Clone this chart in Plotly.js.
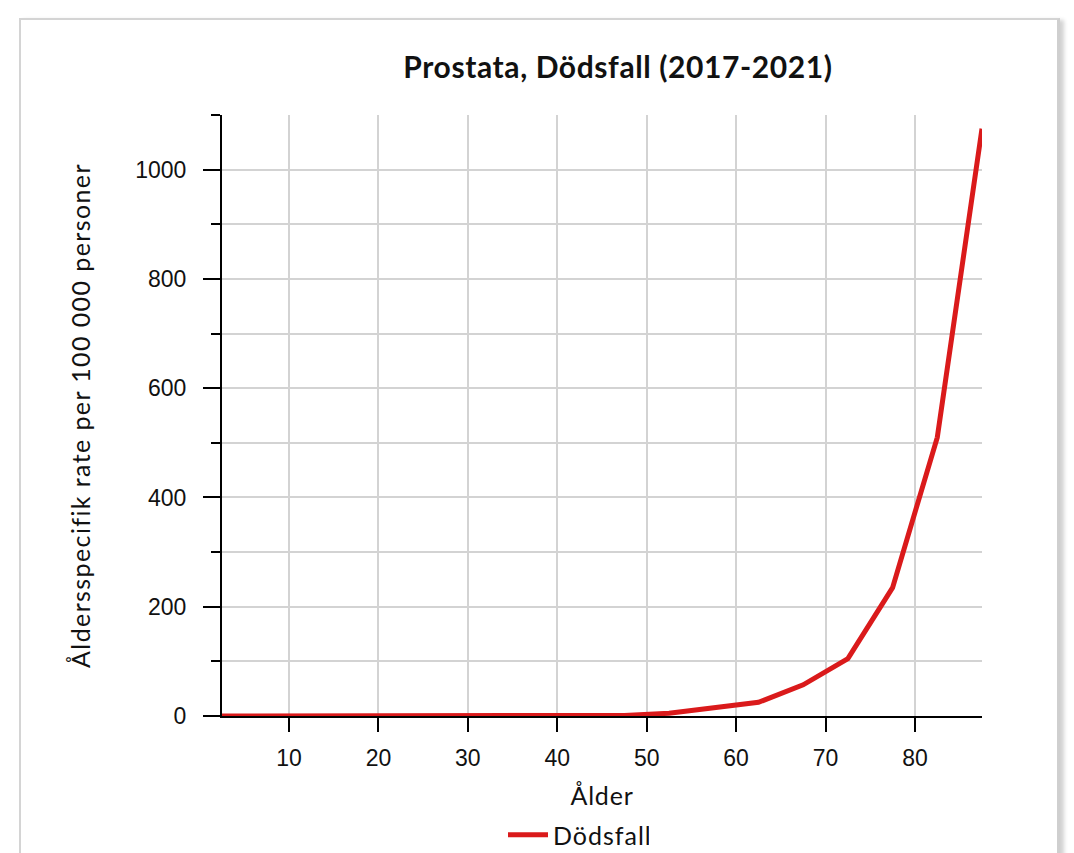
<!DOCTYPE html>
<html>
<head>
<meta charset="utf-8">
<script src="https://cdn.plot.ly/plotly-3.0.1.min.js"></script>
<style>
  html, body { margin: 0; padding: 0; background: #ffffff; overflow: hidden; }
  #card { position: absolute; left: 19px; top: 18px; width: 1036px; height: 900px;
          border: 2px solid #d4d4d4; border-right: 3px solid #cfcfcf;
          box-shadow: 4px 2px 4px rgba(0,0,0,0.18); background: #fff; }
  #chart { position: absolute; left: 0; top: 0; width: 1074px; height: 853px; }
  #chart .gtitle { letter-spacing: 0.6px; }
  #chart .g-ytitle text { letter-spacing: 1.4px; }
  #chart .g-xtitle text { letter-spacing: 0.8px; }
  #chart .legendtext { letter-spacing: 1px; }
</style>
</head>
<body>
<div id="card"></div>
<div id="chart"></div>
<script>
// Age group midpoints (years)
const ages = [2.5, 7.5, 12.5, 17.5, 22.5, 27.5, 32.5, 37.5, 42.5, 47.5, 52.5, 57.5, 62.5, 67.5, 72.5, 77.5, 82.5, 87.5];
// Age-specific death rate per 100 000 persons
const deathRate = [0, 0, 0, 0, 0, 0, 0, 0, 0.2, 1, 5, 15, 25, 57, 105, 235, 510, 1075];
const seriesName = "Dödsfall";
const chartTitle = "Prostata, Dödsfall (2017-2021)";
const xTitle = "Ålder";
const yTitle = "Åldersspecifik rate per 100 000 personer";

const trace = {
  x: ages,
  y: deathRate,
  type: "scatter",
  mode: "lines",
  name: seriesName,
  line: { color: "#da1a1b", width: 5 },
  showlegend: true,
  hoverinfo: "x+y"
};

const layout = {
  width: 1074,
  height: 853,
  margin: { l: 222, r: 92, t: 115, b: 137 },
  paper_bgcolor: "rgba(0,0,0,0)",
  plot_bgcolor: "rgba(0,0,0,0)",
  font: { family: "Lato, 'Noto Sans', sans-serif", color: "#111111" },
  title: {
    text: "<b>" + chartTitle + "</b>",
    font: { family: "Lato, 'Noto Sans', sans-serif", size: 30, color: "#111111" },
    x: 618 / 1074, xanchor: "center", xref: "container",
    y: 1 - 67 / 853, yanchor: "middle", yref: "container"
  },
  xaxis: {
    range: [2.5, 87.5],
    tick0: 0, dtick: 10,
    showgrid: true, gridcolor: "#d3d3d3", gridwidth: 2,
    zeroline: false,
    showline: true, linecolor: "#000000", linewidth: 2,
    ticks: "outside", ticklen: 14, tickwidth: 2, tickcolor: "#000000",
    ticklabelstandoff: 6,
    tickfont: { family: "'Liberation Sans', Arial, sans-serif", size: 23, color: "#111111" },
    title: { text: xTitle, font: { family: "Lato, 'Noto Sans', sans-serif", size: 25, color: "#111111" }, standoff: 18 },
    fixedrange: true
  },
  yaxis: {
    range: [0, 1100],
    tick0: 0, dtick: 200,
    showgrid: true, gridcolor: "#d3d3d3", gridwidth: 2,
    zeroline: false,
    showline: true, linecolor: "#000000", linewidth: 2,
    ticks: "outside", ticklen: 17, tickwidth: 2, tickcolor: "#000000",
    ticklabelstandoff: 12,
    minor: { dtick: 100, tick0: 0, ticks: "outside", ticklen: 9, tickwidth: 2, tickcolor: "#000000",
             showgrid: true, gridcolor: "#d3d3d3", gridwidth: 2 },
    tickfont: { family: "'Liberation Sans', Arial, sans-serif", size: 23, color: "#111111" },
    title: { text: yTitle, font: { family: "Lato, 'Noto Sans', sans-serif", size: 25, color: "#111111" }, standoff: 37 },
    fixedrange: true
  },
  legend: {
    orientation: "h",
    x: (503 - 222) / 760, xanchor: "left", xref: "paper",
    y: 1 - 835 / 853, yanchor: "middle", yref: "container",
    itemwidth: 40,
    font: { family: "Lato, 'Noto Sans', sans-serif", size: 25, color: "#111111" },
    bgcolor: "rgba(0,0,0,0)"
  },
  showlegend: true
};

Plotly.newPlot("chart", [trace], layout, { displayModeBar: false, staticPlot: false });
</script>
</body>
</html>
